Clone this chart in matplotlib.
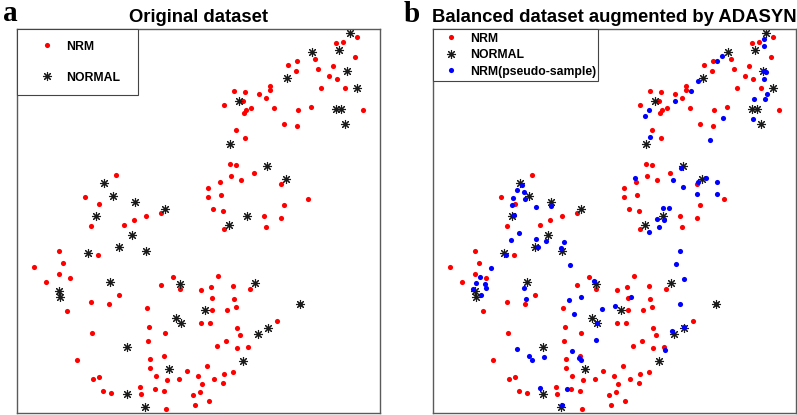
import matplotlib
matplotlib.use("Agg")
import matplotlib.pyplot as plt

# ---- data (in embedding units; y grows downward) ----
nrm_points = [
    (116, 174.7), (84.7, 196.7), (99.3, 204.3), (91.3, 226), (124, 225.3), (133.7, 220.3),
    (146.3, 216), (161.3, 212.7), (98, 255.3), (59, 250.7), (62.7, 263.3), (34, 267.3),
    (59, 274), (70.3, 278), (46.3, 282.3), (173.3, 277), (160.7, 285),
    (179.7, 289.3), (200.7, 289.7), (91.3, 302), (109, 304), (119, 295.3), (66.7, 310.7),
    (147, 308.3), (201, 323.3), (148.7, 327), (165, 332.7), (92.3, 333), (148, 341.3),
    (164, 356), (150, 359), (149.7, 368), (77, 360.3), (187, 370.7), (156.3, 376),
    (167.3, 380.3), (179.3, 379), (198, 376.3), (93.3, 378.7), (98.7, 376.7), (202.3, 384.2),
    (140, 387.3), (155, 388.7), (163.7, 391), (102.7, 390.7), (111.3, 393), (140.7, 393.7),
    (199.7, 392.3), (193, 395.3), (194.7, 405.3), (166, 409.5), (207, 366.5),
    (218.3, 276), (211, 287), (233, 286), (250, 289), (212, 298.3), (234.3, 299.3),
    (212.3, 310.3), (226.7, 310), (236, 307.3), (209.7, 322.7), (237, 328.3), (240, 335),
    (226.3, 341), (216.7, 346), (237, 348), (248, 347), (277.3, 321), (300.3, 303.7),
    (214, 379), (224, 374.3), (233.3, 372), (222.7, 382.7), (209, 401),
    (336, 43), (343.3, 42), (357.3, 37), (355, 57.3), (297, 60.7), (288.3, 65.3),
    (314.7, 59.3), (296.3, 71), (318.3, 69.3), (332.7, 66.3), (329, 76), (337.3, 78.7),
    (345.3, 88.3), (320.7, 88.3), (234.3, 91.3), (245.3, 92.3), (270.3, 86.3), (270, 90),
    (259.3, 94.3), (266, 97.7), (223.7, 105), (242.7, 101.3), (246.3, 109.7), (251.3, 108),
    (244, 113.3), (274.3, 108.3), (298, 109.7), (311, 107), (363, 109.7), (283.7, 124),
    (296.7, 126), (236.3, 130), (245, 138.5),
    (230.3, 163.7), (235.7, 165.3), (230.7, 176), (254.3, 173), (241.3, 180), (220.3, 181.7),
    (207.7, 188.5), (208, 196.7), (221.3, 194.7), (281.3, 183.7), (283.7, 204.7), (307.7, 199),
    (213.3, 209), (223.3, 211.3), (264.3, 216), (280.7, 218.3), (266.3, 226.7), (224, 229),
]

normal_points = [
    (104, 183), (112.7, 196), (135, 201.7), (96, 215.7), (164.7, 208.7), (131.7, 235.3),
    (119, 247), (88, 253.3), (146.3, 251.3), (110.5, 282.3), (180.3, 283.8),
    (59.3, 291.3), (60.3, 297.3), (176, 317.7), (181.3, 323), (204.7, 310.2), (127, 346.7),
    (168.7, 368.7), (127, 394.3), (144.7, 407.3),
    (254.7, 282.7), (300, 304), (268.3, 328.3), (258, 333.7), (243, 360.7),
    (349.7, 32.7), (311.7, 51.7), (339, 50), (346.7, 70.7), (356.7, 88), (287.3, 78),
    (239.3, 101), (336, 109), (340.7, 109.3), (345, 124.3), (229.7, 144.3),
    (267, 166.3), (285.7, 179), (246.7, 216.3), (229.3, 224.7),
]

pseudo_points = [
    (105.7, 184.7), (101.3, 190.3), (107.7, 191.7), (97.3, 197.7), (108.7, 199.3), (96, 204.7),
    (119.7, 207), (135, 206.3), (98, 214.7), (103.3, 233), (94.7, 239.7), (120, 239.3),
    (130.3, 240.7), (148.3, 241.7), (122, 247.3), (145, 248.3), (90.3, 254.7), (75.3, 268.3),
    (154.3, 265.3), (63.7, 277.3), (60, 283), (69, 284), (69.7, 288.3), (57, 288.7),
    (64.7, 294.7), (108, 287.7), (178.3, 280.7), (165.3, 296.7), (110.3, 299.5), (152.7, 300.5),
    (214.7, 297),
    (158, 314.3), (185.7, 308.7), (198.7, 305.7), (181, 323.3), (180.3, 340.3), (101, 349.3),
    (113.3, 356), (116.3, 360), (127.7, 357.3), (155.7, 351.3), (163, 358.3), (165, 359.7),
    (124, 388.3), (151, 389), (145.7, 405),
    (348.3, 39), (347.7, 45.7), (306, 56), (301, 60.7), (347.7, 70.7), (350.3, 72),
    (347.7, 79.3), (282.3, 81.3), (275, 91.3), (350.7, 94), (338.3, 99.3), (348.7, 99.3),
    (259.3, 101.3), (232.7, 110.3), (229.3, 115.7), (306.7, 118.3), (336.7, 118.7),
    (234.3, 137.3), (294.3, 139.8),
    (219.3, 177.7), (265.3, 168), (256.7, 180), (267, 187.3), (282, 182.3), (290, 177.7),
    (301, 182), (281.3, 194.3), (301.3, 194), (247.3, 208.3), (253, 208), (241, 219),
    (248.3, 219.7), (243.3, 227), (232.7, 232.3), (264.3, 251.3), (260, 264),
    (268.3, 278.7), (264, 304.3), (268, 327.3), (255.7, 331), (249.3, 349.7),
]

titles = ["Original dataset", "Balanced dataset augmented by ADASYN"]
panel_letters = ["a", "b"]
labels = ["NRM", "NORMAL", "NRM(pseudo-sample)"]

nrm_x, nrm_y = zip(*nrm_points)
nor_x, nor_y = zip(*normal_points)
ps_x, ps_y = zip(*pseudo_points)

# ---- figure ----
W, H = 797, 415
fig = plt.figure(figsize=(W / 100, H / 100), dpi=100)
ax1 = fig.add_axes([16.7 / W, 2 / H, 363.3 / W, 384 / H])
ax2 = fig.add_axes([432.7 / W, 2 / H, 363.3 / W, 384 / H])

star = (8, 2, 0)
leg_font = dict(family="Liberation Sans", weight="bold", size=8.8)

for i, ax in enumerate([ax1, ax2]):
    ax.plot(nrm_x, nrm_y, "o", color="#ff0000", ms=3.7, mew=0, ls="none", label=labels[0])
    ax.plot(nor_x, nor_y, marker=star, color="#1a1a1a", ms=6.5, mew=0.8, ls="none",
            label=labels[1])
    if i == 1:
        ax.plot(ps_x, ps_y, "o", color="#0000ff", ms=3.7, mew=0, ls="none", label=labels[2])
    ax.set_xlim(16.7, 380)
    ax.set_ylim(413, 29)
    ax.set_xticks([])
    ax.set_yticks([])
    for sp in ax.spines.values():
        sp.set_color("#5a5a5a")
        sp.set_linewidth(1.0)
    ax.set_title(titles[i], fontsize=13.3, fontweight="bold", family="Liberation Sans", pad=5)

leg1 = ax1.legend(loc="upper left", bbox_to_anchor=(0, 0, 0.333, 1), mode="expand",
                  borderaxespad=0, borderpad=0.95, labelspacing=1.55, handlelength=3.1,
                  handletextpad=0.0, prop=leg_font, fancybox=False, edgecolor="#444444",
                  framealpha=1, numpoints=1)
leg1.get_frame().set_linewidth(0.8)

leg2 = ax2.legend(loc="upper left", bbox_to_anchor=(0, 0, 0.456, 1), mode="expand",
                  borderaxespad=0, borderpad=0.3, labelspacing=0.37, handlelength=2.47,
                  handletextpad=0.27, prop=leg_font, fancybox=False, edgecolor="#444444",
                  framealpha=1, numpoints=1)
leg2.get_frame().set_linewidth(0.8)

fig.text(2.5 / W, 1 - 21 / H, panel_letters[0], fontsize=21, fontweight="bold",
         family="Liberation Serif", ha="left", va="baseline")
fig.text(404 / W, 1 - 21.5 / H, panel_letters[1], fontsize=21, fontweight="bold",
         family="Liberation Serif", ha="left", va="baseline")

fig.savefig("out.png", dpi=100)
